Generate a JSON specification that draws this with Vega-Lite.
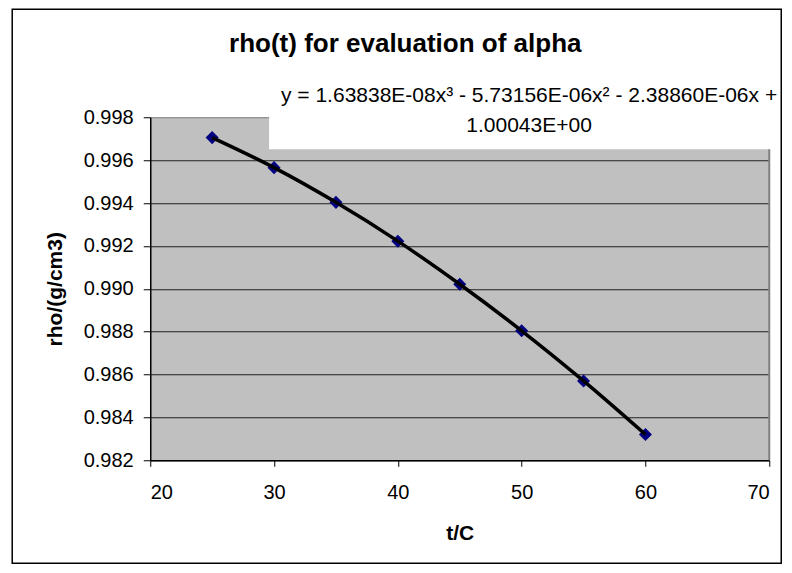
{
  "$schema": "https://vega.github.io/schema/vega-lite/v6.json",
  "width": 619,
  "height": 343,
  "padding": {"left": 11.25, "top": 8.25, "right": 0, "bottom": 0},
  "background": "white",
  "config": {
    "view": {"stroke": null, "fill": "#C0C0C0"},
    "font": "Liberation Sans",
    "axis": {
      "labelFont": "Liberation Sans",
      "titleFont": "Liberation Sans",
      "labelColor": "black",
      "titleColor": "black",
      "domainColor": "black",
      "tickColor": "black",
      "labelFontSize": 20,
      "titleFontSize": 21,
      "titleFontWeight": "bold",
      "labelFontWeight": "normal",
      "domainWidth": 1.5,
      "tickWidth": 1
    },
    "axisX": {"grid": false, "tickSize": 6, "labelPadding": 16, "titlePadding": 20},
    "axisY": {"grid": true, "gridColor": "#222222", "gridWidth": 1, "tickSize": 7, "labelPadding": 10, "titlePadding": 18}
  },
  "data": {"values": [
    {"t": 25, "rho": 0.99705},
    {"t": 30, "rho": 0.99565},
    {"t": 35, "rho": 0.99403},
    {"t": 40, "rho": 0.99222},
    {"t": 45, "rho": 0.99021},
    {"t": 50, "rho": 0.98804},
    {"t": 55, "rho": 0.98570},
    {"t": 60, "rho": 0.98320}
  ]},
  "layer": [
    {
      "mark": {"type": "point", "shape": "diamond", "filled": true, "size": 170, "color": "#000080", "opacity": 1},
      "encoding": {
        "x": {"field": "t", "type": "quantitative",
          "scale": {"domain": [20, 70], "nice": false, "zero": false},
          "axis": {"title": "t/C", "values": [20, 30, 40, 50, 60, 70], "format": "d", "grid": false}},
        "y": {"field": "rho", "type": "quantitative",
          "scale": {"domain": [0.982, 0.998], "nice": false, "zero": false},
          "axis": {"title": "rho/(g/cm3)", "values": [0.982, 0.984, 0.986, 0.988, 0.99, 0.992, 0.994, 0.996, 0.998],
            "format": ".3f", "grid": true,
            "gridColor": {"condition": {"test": "datum.value >= 0.9979", "value": "#808080"}, "value": "#222222"}}}
      }
    },
    {
      "data": {"values": [{}]},
      "mark": {"type": "rect", "fill": "white", "stroke": null},
      "encoding": {
        "x": {"datum": 29.6, "type": "quantitative", "scale": {"domain": [20, 70], "nice": false, "zero": false}},
        "x2": {"datum": 70.3},
        "y": {"datum": 0.99651, "type": "quantitative", "scale": {"domain": [0.982, 0.998], "nice": false, "zero": false}},
        "y2": {"datum": 0.99815}
      }
    },
    {
      "data": {"values": [{}]},
      "mark": {"type": "rule", "color": "#808080", "strokeWidth": 2},
      "encoding": {
        "x": {"datum": 70, "type": "quantitative", "scale": {"domain": [20, 70], "nice": false, "zero": false}},
        "y": {"datum": 0.982, "type": "quantitative", "scale": {"domain": [0.982, 0.998], "nice": false, "zero": false}},
        "y2": {"datum": 0.99651}
      }
    },
    {
      "mark": {"type": "line", "color": "black", "strokeWidth": 3.5, "interpolate": "monotone"},
      "encoding": {
        "x": {"field": "t", "type": "quantitative", "scale": {"domain": [20, 70], "nice": false, "zero": false}},
        "y": {"field": "rho", "type": "quantitative", "scale": {"domain": [0.982, 0.998], "nice": false, "zero": false}}
      }
    },
    {
      "data": {"values": [{}]},
      "mark": {"type": "text", "text": "rho(t) for evaluation of alpha", "font": "Liberation Sans", "fontWeight": "bold",
        "fontSize": 26, "align": "center", "baseline": "alphabetic", "color": "black"},
      "encoding": {
        "x": {"datum": 40.6, "type": "quantitative", "scale": {"domain": [20, 70], "nice": false, "zero": false}},
        "y": {"datum": 1.00103, "type": "quantitative", "scale": {"domain": [0.982, 0.998], "nice": false, "zero": false}}
      }
    },
    {
      "data": {"values": [{}]},
      "mark": {"type": "text", "text": ["y = 1.63838E-08x³ - 5.73156E-06x² - 2.38860E-06x +", "1.00043E+00"],
        "font": "Liberation Sans", "fontSize": 21, "lineHeight": 30, "align": "center", "baseline": "alphabetic", "color": "black"},
      "encoding": {
        "x": {"datum": 50.6, "type": "quantitative", "scale": {"domain": [20, 70], "nice": false, "zero": false}},
        "y": {"datum": 0.9987, "type": "quantitative", "scale": {"domain": [0.982, 0.998], "nice": false, "zero": false}}
      }
    },
    {
      "data": {"values": [{}]},
      "mark": {"type": "rect", "fillOpacity": 0, "stroke": "black", "strokeWidth": 1.5},
      "encoding": {
        "x": {"datum": 8.85, "type": "quantitative", "scale": {"domain": [20, 70], "nice": false, "zero": false}},
        "x2": {"datum": 70.97},
        "y": {"datum": 1.00304, "type": "quantitative", "scale": {"domain": [0.982, 0.998], "nice": false, "zero": false}},
        "y2": {"datum": 0.97720}
      }
    }
  ]
}
